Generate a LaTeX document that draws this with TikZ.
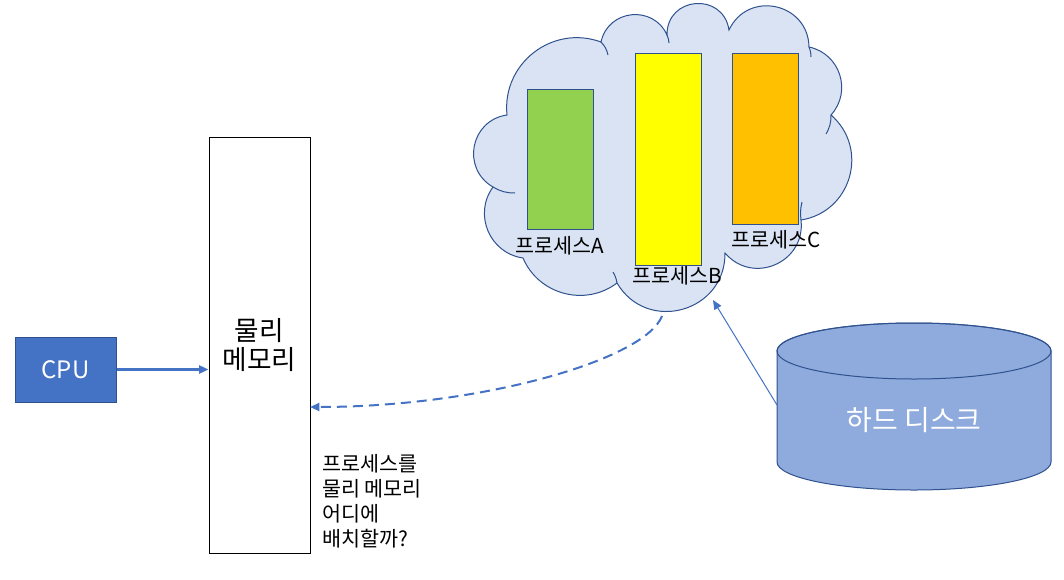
\documentclass[tikz,border=0pt]{standalone}
\usepackage{fontspec}
\setmainfont{Noto Sans CJK KR}
\usepackage{tikz}
\usetikzlibrary{shapes,arrows.meta,positioning}
\definecolor{cpublue}{HTML}{4472C4}
\definecolor{edgeblue}{HTML}{2F528F}
\definecolor{cloudfill}{HTML}{DAE3F3}
\definecolor{procgreen}{HTML}{92D050}
\definecolor{procyellow}{HTML}{FFFF00}
\definecolor{procorange}{HTML}{FFC000}
\definecolor{diskfill}{HTML}{8FAADC}

\begin{document}
\begin{tikzpicture}[x=0.75pt,y=0.75pt,
  cpubox/.style={draw=edgeblue,fill=cpublue,line width=0.75pt,text=white,minimum width=75.75pt,minimum height=48.75pt,font=\fontsize{18}{21}\selectfont},
  membox/.style={draw=black,fill=white,line width=0.75pt,minimum width=75.75pt,minimum height=312pt,align=center,font=\fontsize{20}{21.5}\selectfont},
  procbox/.style={draw=edgeblue,line width=0.75pt,minimum width=49.5pt},
  proclabel/.style={inner sep=0pt,font=\fontsize{15.5}{18}\selectfont},
  cloudline/.style={draw=edgeblue,line width=0.75pt},
  bluearrow/.style={cpublue,-{Triangle[length=7pt,width=6pt]}}]
\useasboundingbox (0,0) rectangle (1064,-579);
% cpu and physical memory
\node[cpubox] (cpu) at (65.5,-369.5) {CPU};
\node[membox] (mem) at (259.5,-345) {물리\\메모리};
\draw[bluearrow,line width=1.8pt] (cpu.east) -- (cpu.east -| mem.west);
\node[anchor=north west,inner sep=0pt,align=left,font=\fontsize{15.5}{18.75}\selectfont] (ask) at (322,-454) {프로세스를\\물리 메모리\\어디에\\배치할까?};
% cloud of processes
\filldraw[cloudline,fill=cloudfill] (507,-115)
  to[bend left=58,looseness=1.11] (601,-42)
  to[bend left=72,looseness=1.29] (667,-35)
  to[bend left=86,looseness=1.6] (729,-30)
  to[bend left=77,looseness=1.39] (809,-47)
  to[bend left=60,looseness=1.14] (831,-115)
  to[bend left=65,looseness=1.2] (801,-220)
  to[bend left=73,looseness=1.32] (725,-253)
  to[bend left=75,looseness=1.35] (617,-283)
  to[bend left=52,looseness=1.05] (523,-258)
  to[bend left=59,looseness=1.12] (493,-187)
  to[bend left=71,looseness=1.29] (507,-115) -- cycle;
\draw[cloudline] (601,-42) to[bend left=15] (608,-55);
\draw[cloudline] (667,-35) to[bend left=10] (669,-43);
\draw[cloudline] (809,-47) to[bend left=10] (811,-57);
\draw[cloudline] (831,-115) to[bend left=15] (826,-134);
\draw[cloudline] (801,-220) to[bend left=10] (802,-202);
\draw[cloudline] (617,-283) to[bend right=10] (613,-272);
\draw[cloudline] (493,-187) to[bend right=15] (515,-193);
\node[procbox,fill=procgreen,minimum height=105pt] (procA) at (560,-159) {};
\node[procbox,fill=procyellow,minimum height=159pt] (procB) at (668,-159) {};
\node[procbox,fill=procorange,minimum height=128.25pt] (procC) at (765,-138.5) {};
\node[proclabel] (labA) at (560,-246) {프로세스A};
\node[proclabel] (labB) at (677,-276) {프로세스B};
\node[proclabel] (labC) at (776,-240) {프로세스C};
\coordinate (cloudbot) at (662,-316);
\coordinate (cloudtip) at (713,-300);
\coordinate (memin) at (310,-407);
\draw[bluearrow,line width=1.5pt,dash pattern=on 7.5pt off 4.5pt] (cloudbot) .. controls (645,-360) and (480,-407) .. (memin);
% hard disk
\filldraw[draw=edgeblue,fill=diskfill,line width=0.75pt] (777,-351) -- (777,-462)
  arc[start angle=180,end angle=360,x radius=137,y radius=28] -- (1051,-351)
  arc[start angle=0,end angle=180,x radius=137,y radius=28] -- cycle;
\draw[draw=edgeblue,line width=0.75pt] (914,-351) ellipse[x radius=137,y radius=28];
\node[text=white,font=\fontsize{21}{24}\selectfont] (disk) at (914,-420) {하드 디스크};
\coordinate (diskleft) at (777,-405);
\draw[bluearrow,line width=0.75pt] (diskleft) -- (cloudtip);
\end{tikzpicture}
\end{document}
